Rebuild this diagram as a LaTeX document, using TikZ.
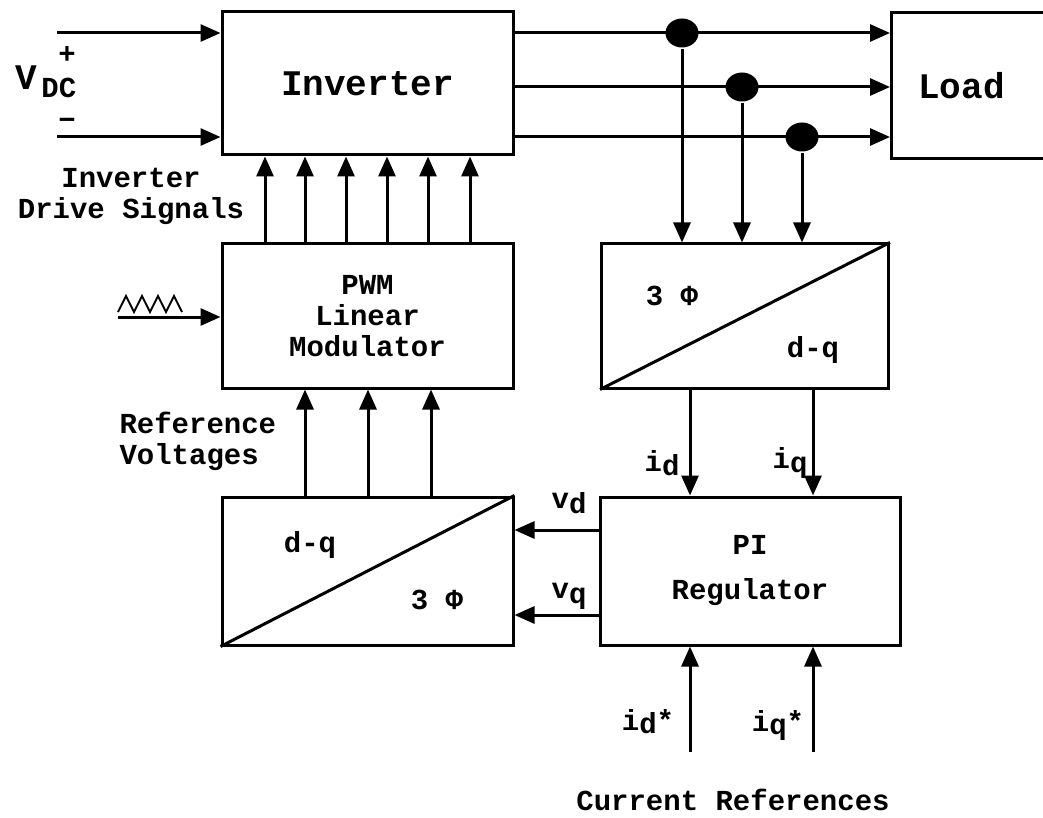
\documentclass[tikz,border=0pt]{standalone}
\usepackage{fontspec}
\setmainfont{Liberation Mono}
\usetikzlibrary{arrows.meta,shapes.geometric}

\begin{document}
\begin{tikzpicture}[x=1pt,y=-1pt,>={Triangle[length=20pt,width=17pt]},line width=3pt,
  txt/.style={font=\bfseries\fontsize{29}{31}\selectfont,inner sep=0pt},
  big/.style={font=\bfseries\fontsize{36}{40}\selectfont},
  blk/.style={draw,rectangle,inner sep=0pt,align=center,txt},
  sensor/.style={ellipse,fill,inner sep=0pt,minimum width=33pt,minimum height=29pt}]
  \useasboundingbox (0,0) rectangle (1043,818);
  % blocks
  \node[blk,big,minimum width=291pt,minimum height=143pt] (inv) at (367.5,83.5) {Inverter};
  \node[blk,big,minimum width=160pt,minimum height=146pt,anchor=west] (load) at (890,86) {Load\hspace{20pt}};
  \node[blk,minimum width=291pt,minimum height=144pt] (pwm) at (367.5,316) {PWM\\Linear\\Modulator};
  \node[blk,minimum width=287pt,minimum height=144pt] (tdq) at (745,316) {};
  \node[blk,minimum width=291pt,minimum height=148pt] (dqa) at (367.5,571) {};
  \node[blk,minimum width=300pt,minimum height=148pt] (pi) at (750,571) {PI\\[14pt]Regulator};
  \draw (tdq.south west) -- (tdq.north east);
  \draw (dqa.south west) -- (dqa.north east);
  \node[txt] (tdqa) at (672,296) {3 Φ};
  \node[txt] (tdqb) at (813,350) {d-q};
  \node[txt] (dqaa) at (310,545) {d-q};
  \node[txt] (dqab) at (437,600) {3 Φ};
  % dc input
  \coordinate (vp) at (57,33);
  \coordinate (vn) at (57,137);
  \draw[->] (vp) -- (inv.west |- vp);
  \draw[->] (vn) -- (inv.west |- vn);
  \node[txt] (plus) at (67,55) {+};
  \node[txt] (minus) at (67,124) {−};
  \node[txt,font=\bfseries\fontsize{36}{40}\selectfont] (vdc) at (46,82)
    {V\hspace{4pt}\raisebox{-8pt}{\fontsize{29}{31}\selectfont DC}};
  % phase currents
  \node[sensor] (s1) at (682,33) {};
  \node[sensor] (s2) at (742,87) {};
  \node[sensor] (s3) at (802,137) {};
  \foreach \s in {s1,s2,s3}{
    \draw[->] (inv.east |- \s) -- (load.west |- \s);
    \draw[->] (\s) -- (tdq.north -| \s);
  }
  % carrier
  \draw[line width=2pt] (118,312) foreach \k in {1,...,4}{ -- ++(8,-16) -- ++(8,16)};
  \coordinate (saw) at (118,317);
  \draw[->] (saw) -- (pwm.west |- saw);
  \foreach \x in {265,305,346,387,428,470}
    \draw[->] (pwm.north -| \x,0) -- (inv.south -| \x,0);
  \foreach \x in {305,368,431}
    \draw[->] (dqa.north -| \x,0) -- (pwm.south -| \x,0);
  \foreach \x in {690,813}
    \draw[->] (tdq.south -| \x,0) -- (pi.north -| \x,0);
  \foreach \y in {530,615}
    \draw[->] (pi.west |- 0,\y) -- (dqa.east |- 0,\y);
  \coordinate (rd) at (690,752);
  \coordinate (rq) at (813,752);
  \draw[->] (rd) -- (pi.south -| rd);
  \draw[->] (rq) -- (pi.south -| rq);
  % labels
  \node[txt,align=center] (drvlab) at (131,196) {Inverter\\Drive Signals};
  \node[txt,align=left,anchor=west] (reflab) at (118,441) {Reference\\Voltages};
  \node[txt] (idlab) at (662,463) {i\raisebox{-4pt}{d}};
  \node[txt] (iqlab) at (790,463) {i\raisebox{-4pt}{q}};
  \node[txt] (vdlab) at (569,503) {\raisebox{5pt}{v}d};
  \node[txt] (vqlab) at (569,596) {\raisebox{5pt}{v}q};
  \node[txt] (idref) at (648,722) {i\raisebox{-3pt}{d}*};
  \node[txt] (iqref) at (778,725) {i\raisebox{-3pt}{q}*};
  \node[txt] (curlab) at (733,800) {Current References};
\end{tikzpicture}
\end{document}
